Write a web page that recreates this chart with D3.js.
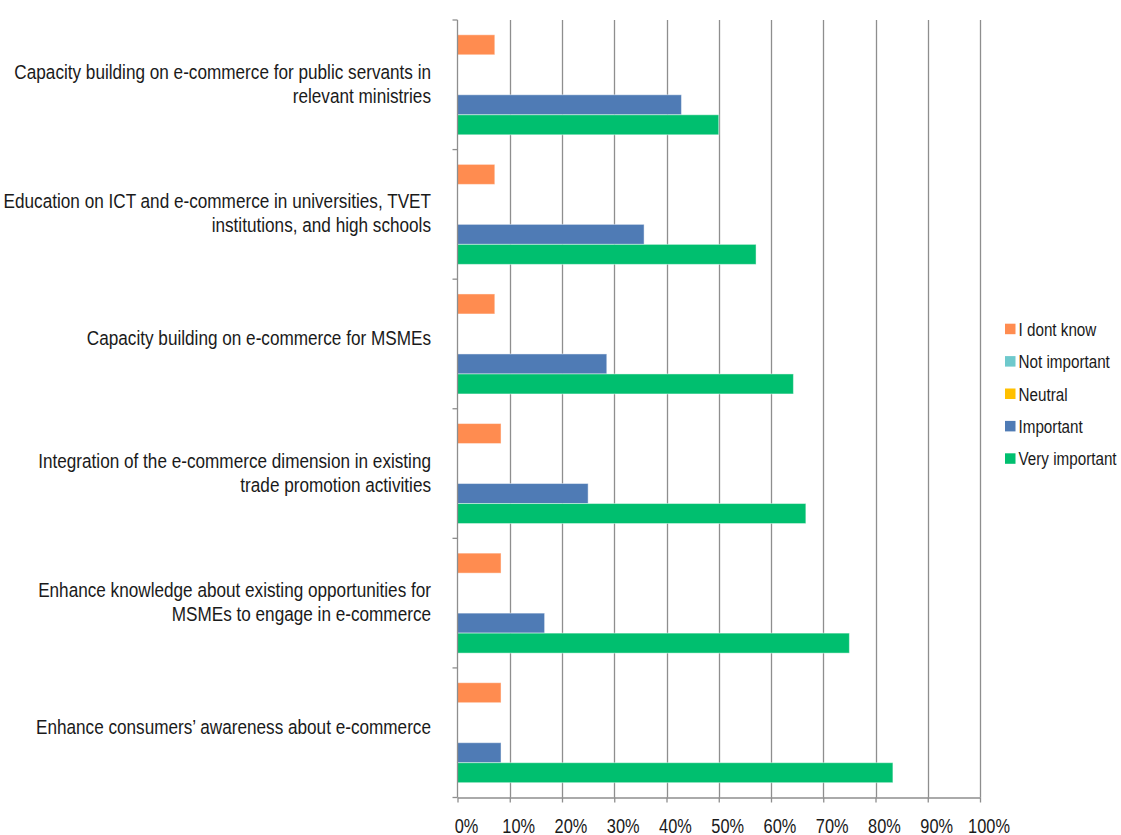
<!DOCTYPE html>
<html>
<head>
<meta charset="utf-8">
<script src="https://cdn.jsdelivr.net/npm/d3@7"></script>
<style>
  html, body { margin: 0; padding: 0; background: #fff; }
  svg { display: block; font-family: "Liberation Sans", Arial, sans-serif; }
</style>
</head>
<body>
<svg id="chart" width="1121" height="835"></svg>
<script>
// Survey topics, top to bottom; "\n" marks the label line breaks
const categories = [
  "Capacity building on e-commerce for public servants in\nrelevant ministries",
  "Education on ICT and e-commerce in universities, TVET\ninstitutions, and high schools",
  "Capacity building on e-commerce for MSMEs",
  "Integration of the e-commerce dimension in existing\ntrade promotion activities",
  "Enhance knowledge about existing opportunities for\nMSMEs to engage in e-commerce",
  "Enhance consumers\u2019 awareness about e-commerce"
];

// Response categories (bar order within each group, top to bottom)
const seriesNames = ["I dont know", "Not important", "Neutral", "Important", "Very important"];
const seriesColors = ["#ff8c50", "#6ec9cc", "#ffc000", "#4f7bb5", "#00bf6f"];

// Share of respondents (%) per topic
const dontKnow      = [7.14, 7.14, 7.14, 8.33, 8.33, 8.33];
const notImportant  = [0, 0, 0, 0, 0, 0];
const neutral       = [0, 0, 0, 0, 0, 0];
const important     = [42.86, 35.71, 28.57, 25.00, 16.67, 8.33];
const veryImportant = [50.00, 57.14, 64.29, 66.67, 75.00, 83.33];

const seriesValues = [dontKnow, notImportant, neutral, important, veryImportant];
const xTicks = [0, 10, 20, 30, 40, 50, 60, 70, 80, 90, 100];

// Condensed look: regular sans squeezed horizontally
const narrow = 0.86;

const svg = d3.select("#chart");
const plot = { left: 457.5, right: 980, top: 20, bottom: 797.5 };
const axisColor = "#8e8e8e";

const x = d3.scaleLinear().domain([0, 100]).range([plot.left, plot.right]);
const y = d3.scaleBand().domain(d3.range(categories.length)).range([plot.top, plot.bottom]).padding(0);
const ySeries = d3.scaleBand().domain(d3.range(seriesNames.length))
  .range([0, y.bandwidth()]).paddingInner(0).paddingOuter(0.74);

// Vertical gridlines
svg.append("g")
  .selectAll("line")
  .data(xTicks.filter(t => t > 0))
  .join("line")
  .attr("x1", d => Math.round(x(d)) + 0.5)
  .attr("x2", d => Math.round(x(d)) + 0.5)
  .attr("y1", plot.top)
  .attr("y2", plot.bottom)
  .attr("stroke", axisColor)
  .attr("stroke-width", 1.3);

// Bars
const groups = svg.append("g")
  .selectAll("g")
  .data(categories.map((c, i) => i))
  .join("g")
  .attr("transform", i => `translate(0,${y(i)})`);

groups.selectAll("rect")
  .data(i => seriesValues.map((vals, s) => ({ s, v: vals[i] })))
  .join("rect")
  .filter(d => d.v > 0)
  .attr("x", x(0))
  .attr("y", d => ySeries(d.s))
  .attr("width", d => x(d.v) - x(0))
  .attr("height", ySeries.bandwidth())
  .attr("fill", d => seriesColors[d.s])
  .attr("stroke", "rgba(255,255,255,0.45)")
  .attr("stroke-width", 1);

// Bottom axis
const xAxis = d3.axisBottom(x)
  .tickValues(xTicks)
  .tickFormat(d => d + "%")
  .tickSizeInner(5)
  .tickSizeOuter(0);
const gx = svg.append("g")
  .attr("transform", `translate(0,${plot.bottom})`)
  .call(xAxis);
gx.select(".domain").attr("stroke", axisColor).attr("stroke-width", 1.3);
gx.selectAll(".tick line").attr("stroke", axisColor).attr("stroke-width", 1.3);
gx.selectAll(".tick text")
  .attr("y", 0)
  .attr("dy", null)
  .attr("transform", `translate(8.5,35) scale(${narrow - 0.02},1)`)
  .attr("font-size", 19.5)
  .attr("fill", "#1a1a1a")
  .attr("font-family", "\"Liberation Sans\", Arial, sans-serif");

// Left axis line with ticks at the group boundaries
const ga = svg.append("g");
ga.append("line")
  .attr("x1", plot.left).attr("x2", plot.left)
  .attr("y1", plot.top).attr("y2", plot.bottom)
  .attr("stroke", axisColor).attr("stroke-width", 1.3);
ga.selectAll("line.tick")
  .data(d3.range(categories.length + 1))
  .join("line")
  .attr("class", "tick")
  .attr("x1", plot.left - 5).attr("x2", plot.left)
  .attr("y1", i => plot.top + i * y.step())
  .attr("y2", i => plot.top + i * y.step())
  .attr("stroke", axisColor).attr("stroke-width", 1.3);

// Category labels, right-aligned and wrapped
const lineH = 24;
svg.append("g")
  .selectAll("g")
  .data(categories)
  .join("g")
  .attr("transform", (d, i) => {
    const n = d.split("\n").length;
    const cy = y(i) + y.bandwidth() / 2;
    return `translate(431,${cy + 1 - (n - 1) * 7}) scale(${narrow + 0.02},1)`;
  })
  .append("text")
  .attr("text-anchor", "end")
  .attr("font-size", 19.5)
  .attr("fill", "#1a1a1a")
  .selectAll("tspan")
  .data(d => d.split("\n"))
  .join("tspan")
  .attr("x", 0)
  .attr("y", (l, k) => k * lineH)
  .text(l => l);

// Legend
const legend = svg.append("g").attr("transform", "translate(1005,329)");
const item = legend.selectAll("g")
  .data(seriesNames)
  .join("g")
  .attr("transform", (d, i) => `translate(0,${i * 32.4})`);
item.append("rect")
  .attr("x", 0).attr("y", -5.3)
  .attr("width", 10.5).attr("height", 10.5)
  .attr("fill", (d, i) => seriesColors[i]);
item.append("text")
  .attr("transform", `translate(13.5,6.8) scale(${narrow + 0.01},1)`)
  .attr("font-size", 17.5)
  .attr("fill", "#1a1a1a")
  .text(d => d);
</script>
</body>
</html>
